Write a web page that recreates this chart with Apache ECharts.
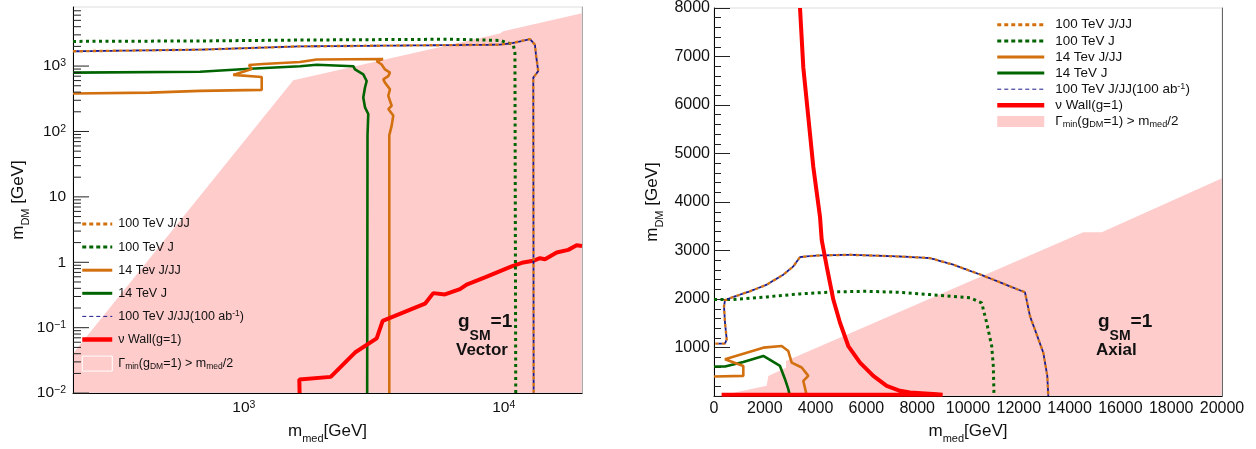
<!DOCTYPE html>
<html><head><meta charset="utf-8">
<script src="https://cdn.jsdelivr.net/npm/echarts@6/dist/echarts.min.js"></script>
<style>html,body{margin:0;padding:0;background:#fff}#c{width:1256px;height:449px}</style>
</head><body><div id="c"></div>
<script>
// ---------------- DATA ----------------
const N100JJ = '100 TeV J/JJ';
const N100J = '100 TeV J';
const N14JJ = '14 Tev J/JJ';
const N14J = '14 TeV J';
const N100AB = '100 TeV J/JJ(100 ab-1)';
const NWALL = '\u03bd Wall(g=1)';
const NPINK = 'Gamma_min(gDM=1) > mmed/2';
const legendNames = [N100JJ, N100J, N14JJ, N14J, N100AB, NWALL, NPINK];

// Left panel (Vector), [m_med GeV, m_DM GeV], log-log
const vecPinkEdge = [[220,0.0403],[1549,605],[9670,3150],[9950,3400],[20000,6412]];
const vec100J = [[220,2383],[678,2420],[1644,2500],[6210,2571],[9670,2466],[10260,2301],[10880,2123],[11040,1589],[11120,0.01]];
const vec100JJ = [[220,1681],[678,1782],[1644,2000],[9670,2123],[10850,2254],[12610,2589],[13180,2123],[13300,1500],[13570,837],[12990,665],[13030,0.01]];
const vec14JJ = [[220,381],[435,392],[678,417],[1171,432],[1171,679],[910,733],[1072,903],[1046,1040],[1184,1077],[1644,1153],[1906,1259],[3430,1281],[3243,1186],[3389,1057],[3490,889],[3649,793],[3594,703],[3439,627],[3490,558],[3649,443],[3594,351],[3704,247],[3594,220],[3757,175],[3704,123],[3626,87],[3626,0.01]];
const vec14J = [[220,793],[678,820],[1055,910],[1644,996],[1906,1047],[2636,996],[2676,889],[2880,746],[2968,591],[2924,470],[2880,331],[2924,234],[3010,185],[2990,87],[2981,0.01]];
const vecWall = [[1638,0.01],[1634,0.0161],[2158,0.0177],[2676,0.0417],[3243,0.0687],[3420,0.1272],[4976,0.2325],[5355,0.3377],[5938,0.3227],[6784,0.388],[7197,0.457],[8465,0.59],[10720,0.865],[11890,0.9945],[12990,1.055],[13780,1.155],[14410,1.116],[15980,1.409],[17710,1.548],[19070,1.817],[20000,1.78]];

// Right panel (Axial), linear
const axPinkEdge = [[157,0],[2075,211],[2138,211],[2138,416],[2835,585],[2835,724],[14539,3378],[15264,3378],[20000,4492]];
const ax100J = [[0,1990],[760,1990],[2075,2045],[3386,2107],[4697,2148],[6012,2160],[7323,2139],[8504,2092],[10079,2025],[10539,1922],[10736,1512],[10933,1032],[10996,622],[11024,0]];
const ax100JJ = [[50,1081],[433,1081],[500,1169],[433,1512],[394,1852],[433,1975],[760,2045],[1417,2160],[2075,2297],[2728,2503],[3122,2673],[3386,2866],[4043,2898],[5354,2913],[7323,2878],[8504,2845],[9421,2708],[10602,2482],[12244,2139],[12441,1647],[12965,896],[13122,416],[13161,0]];
const ax14JJ = [[0,404],[1154,416],[1154,622],[433,759],[1941,999],[2665,1032],[2925,929],[3059,691],[3453,589],[3713,416],[3516,314],[3622,76],[3622,0]];
const ax14J = [[0,609],[433,609],[1154,704],[1941,827],[2272,724],[2598,622],[2795,349],[2925,144],[2992,0]];
const axWall = [[3386,8000],[3516,6775],[3713,5750],[3910,4724],[4173,3699],[4240,3220],[4437,2673],[4697,1990],[4961,1512],[5287,1032],[5748,691],[6272,416],[6799,211],[7323,109],[7717,76],[8780,40],[9000,30],[300,30]];

// Axis ranges / ticks
const vecX = {min: 220, max: 20000};
const vecY = {min: 0.01, max: 8000};
const axX = {min: 0, max: 20000, interval: 2000};
const axY = {min: 0, max: 8000, interval: 1000};
const logTicksY = [];
for (let d = -2; d <= 3; d++) for (let k = 1; k <= 9; k++) { const v = k * Math.pow(10, d); if (v < vecY.max) logTicksY.push(+v.toPrecision(3)); }

// ---------------- STYLE ----------------
const FONT = 'Liberation Sans, Arial, Helvetica, sans-serif';
const C_OR = '#d2700f', C_GR = '#006400', C_BL = '#1a1a8c', C_RED = '#ff0000', C_PINK = '#ffcccc';

function isPow10(v) { const l = Math.log10(v); return Math.abs(l - Math.round(l)) < 1e-6; }
function powLabel(v) {
  if (!isPow10(v)) return '';
  const e = Math.round(Math.log10(v));
  if (e === 0) return '1';
  if (e === 1) return '10';
  return '10{sup|' + (e < 0 ? '\u2212' + (-e) : e) + '}';
}
function legendFmt(name) {
  if (name === N100AB) return '100 TeV J/JJ(100 ab{sup|-1})';
  if (name === NPINK) return '\u0393{sub|min}(g{sub|DM}=1) > m{sub|med}/2';
  return name;
}
function legendRich(fs) {
  return {
    sup: {fontSize: fs * 0.68, lineHeight: 9, verticalAlign: 'top', fontFamily: FONT, color: '#111'},
    sub: {fontSize: fs * 0.68, lineHeight: 8, padding: [6, 0, 0, 0], verticalAlign: 'top', fontFamily: FONT, color: '#111'}
  };
}
const labRich = {sup: {fontSize: 10.5, lineHeight: 10, verticalAlign: 'top', fontFamily: FONT, color: '#111'}};
const nameRich = {
  a: {fontSize: 17, lineHeight: 20, fontFamily: FONT, color: '#111'},
  s: {fontSize: 11, lineHeight: 11, padding: [12, 0, 0, 0], verticalAlign: 'top', fontFamily: FONT, color: '#111'}
};

function lineSeries(name, data, xi, yi, style, z) {
  return {type: 'line', name: name, data: data, xAxisIndex: xi, yAxisIndex: yi, symbol: 'none',
    showSymbol: false, smooth: false, lineStyle: style, itemStyle: {color: style.color}, color: style.color,
    z: z || 2, silent: true, animation: false, clip: true};
}
function pinkSeries(data, xi, yi) {
  return {type: 'line', name: NPINK, data: data, xAxisIndex: xi, yAxisIndex: yi, symbol: 'none',
    lineStyle: {width: 0, color: C_PINK}, itemStyle: {color: C_PINK}, color: C_PINK,
    areaStyle: {color: C_PINK, opacity: 1, origin: 'start'}, z: -1, silent: true, animation: false};
}
const sty = {
  j100jj: {color: C_OR, width: 2.4, type: [3.3, 3.3]},
  j100: {color: C_GR, width: 3, type: [3, 3.5]},
  j14jj: {color: C_OR, width: 2.6, type: 'solid'},
  j14: {color: C_GR, width: 2.6, type: 'solid'},
  ab: {color: C_BL, width: 1.8, type: [3.3, 3.3], dashOffset: 3.3},
  wall: {color: C_RED, width: 4, type: 'solid'}
};
const legendLineW = {};
legendLineW[N100JJ] = 3; legendLineW[N100J] = 3; legendLineW[N14JJ] = 3; legendLineW[N14J] = 3;
legendLineW[N100AB] = 1; legendLineW[NWALL] = 4.5;
const legendDash = {};
legendDash[N100JJ] = [4, 3]; legendDash[N100J] = [4, 3]; legendDash[N100AB] = [4, 3];

const axisLineBlack = {show: true, onZero: false, lineStyle: {color: '#000', width: 1}};
const plainNum = v => String(v);

function legendData(pinkStyle) {
  return legendNames.map(n => n === NPINK
    ? {name: n, icon: 'rect', itemStyle: Object.assign({color: C_PINK, opacity: 1}, pinkStyle)}
    : {name: n, lineStyle: Object.assign({width: legendLineW[n]}, legendDash[n] ? {type: legendDash[n], dashOffset: 0} : {})});
}

const option = {
  animation: false,
  backgroundColor: '#fff',
  textStyle: {fontFamily: FONT},
  grid: [
    {left: 73, top: 7, width: 509, height: 390, show: true, borderColor: '#dddddd', borderWidth: 1, backgroundColor: 'transparent'},
    {left: 714, top: 7, width: 508, height: 390, show: true, borderColor: '#dddddd', borderWidth: 1, backgroundColor: 'transparent'}
  ],
  xAxis: [
    {gridIndex: 0, type: 'log', logBase: 10, min: vecX.min, max: vecX.max,
      axisLine: axisLineBlack, axisTick: {show: false}, splitLine: {show: false},
      axisLabel: {formatter: powLabel, fontSize: 15.5, color: '#111', margin: 7, fontFamily: FONT, rich: labRich, showMinLabel: false, showMaxLabel: false},
      name: '{a|m}{s|med}{a|[GeV]}', nameLocation: 'middle', nameGap: 17,
      nameTextStyle: {fontSize: 17, fontFamily: FONT, color: '#111', rich: nameRich}},
    {gridIndex: 1, type: 'value', min: axX.min, max: axX.max, interval: axX.interval,
      axisLine: axisLineBlack, axisTick: {show: false}, splitLine: {show: false},
      axisLabel: {formatter: plainNum, fontSize: 16, color: '#111', margin: 4, fontFamily: FONT},
      name: '{a|m}{s|med}{a|[GeV]}', nameLocation: 'middle', nameGap: 17,
      nameTextStyle: {fontSize: 17, fontFamily: FONT, color: '#111', rich: nameRich}}
  ],
  yAxis: [
    {gridIndex: 0, type: 'log', logBase: 10, min: vecY.min, max: vecY.max, splitNumber: 6,
      axisLine: axisLineBlack, axisTick: {show: false},
      splitLine: {show: false},
      axisLabel: {formatter: powLabel, fontSize: 15.5, color: '#111', margin: 7, fontFamily: FONT, rich: labRich, showMaxLabel: false},
      name: '{a|m}{s|DM}{a| [GeV]}', nameLocation: 'middle', nameGap: 45,
      nameTextStyle: {fontSize: 17, fontFamily: FONT, color: '#111', rich: nameRich}},
    {gridIndex: 0, type: 'value', position: 'right', min: 0, max: 1,
      axisLine: {show: true, onZero: false, lineStyle: {color: '#aaaaaa'}}, axisTick: {show: false},
      axisLabel: {show: false}, splitLine: {show: false}},
    {gridIndex: 1, type: 'value', min: axY.min, max: axY.max, interval: axY.interval,
      axisLine: axisLineBlack, axisTick: {show: true, inside: true, length: 16, lineStyle: {color: '#222'}},
      minorTick: {show: true, splitNumber: 5, length: 7, lineStyle: {color: '#222'}},
      splitLine: {show: false}, minorSplitLine: {show: false},
      axisLabel: {formatter: plainNum, fontSize: 16, color: '#111', margin: 4, fontFamily: FONT, showMinLabel: false},
      name: '{a|m}{s|DM}{a| [GeV]}', nameLocation: 'middle', nameGap: 52,
      nameTextStyle: {fontSize: 17, fontFamily: FONT, color: '#111', rich: nameRich}},
    {gridIndex: 1, type: 'value', position: 'right', min: 0, max: 1,
      axisLine: {show: true, onZero: false, lineStyle: {color: '#666666'}}, axisTick: {show: false},
      axisLabel: {show: false}, splitLine: {show: false}}
  ],
  legend: [
    {left: 80, top: 217, orient: 'vertical', padding: 0, itemWidth: 30, itemHeight: 15, itemGap: 9.1,
      selectedMode: false, formatter: legendFmt, itemStyle: {opacity: 0},
      textStyle: {fontSize: 12.5, lineHeight: 14, color: '#111', fontFamily: FONT, padding: [0, 0, 0, 1], rich: legendRich(12.5)},
      data: legendData({borderColor: '#ffffff', borderWidth: 1})},
    {left: 995, top: 17.8, orient: 'vertical', padding: 0, itemWidth: 47, itemHeight: 11, itemGap: 2.1,
      selectedMode: false, formatter: legendFmt, itemStyle: {opacity: 0},
      textStyle: {fontSize: 13.4, lineHeight: 14, color: '#111', fontFamily: FONT, padding: [0, 0, 0, 6], rich: legendRich(13.4)},
      data: legendData({borderWidth: 0})}
  ],
  graphic: [
    {type: 'text', left: 458, top: 312, z: 100, style: {
      text: '{g|g}{s|SM}{g|=1}', fill: '#111',
      rich: {g: {fontSize: 19, fontWeight: 'bold', lineHeight: 22, verticalAlign: 'top', fontFamily: FONT, fill: '#111'},
             s: {fontSize: 14, fontWeight: 'bold', lineHeight: 14, padding: [17, 0, 0, 0], verticalAlign: 'top', fontFamily: FONT, fill: '#111'}}}},
    {type: 'text', left: 456, top: 342, z: 100, style: {text: 'Vector', font: 'bold 17px ' + FONT, fill: '#111'}},
    {type: 'text', left: 1098, top: 312, z: 100, style: {
      text: '{g|g}{s|SM}{g|=1}', fill: '#111',
      rich: {g: {fontSize: 19, fontWeight: 'bold', lineHeight: 22, verticalAlign: 'top', fontFamily: FONT, fill: '#111'},
             s: {fontSize: 14, fontWeight: 'bold', lineHeight: 14, padding: [17, 0, 0, 0], verticalAlign: 'top', fontFamily: FONT, fill: '#111'}}}},
    {type: 'text', left: 1096, top: 342, z: 100, style: {text: 'Axial', font: 'bold 17px ' + FONT, fill: '#111'}}
  ],
  series: [
    pinkSeries(vecPinkEdge, 0, 0),
    lineSeries(N14J, vec14J, 0, 0, sty.j14),
    lineSeries(N14JJ, vec14JJ, 0, 0, sty.j14jj),
    lineSeries(NWALL, vecWall, 0, 0, sty.wall),
    lineSeries(N100J, vec100J, 0, 0, sty.j100),
    lineSeries(N100JJ, vec100JJ, 0, 0, sty.j100jj),
    lineSeries(N100AB, vec100JJ, 0, 0, sty.ab, 3),
    {type: 'custom', name: 'logTicks', xAxisIndex: 0, yAxisIndex: 0, data: logTicksY.map(v => [vecX.min, v]),
      silent: true, z: 5, clip: false,
      renderItem: function (params, api) {
        const v = api.value(1);
        const p = api.coord([api.value(0), v]);
        const len = isPow10(v) ? 16 : 8;
        return {type: 'line', shape: {x1: p[0], y1: p[1], x2: p[0] + len, y2: p[1]}, style: {stroke: '#222', lineWidth: 1}};
      }},
    pinkSeries(axPinkEdge, 1, 2),
    lineSeries(N14J, ax14J, 1, 2, sty.j14),
    lineSeries(N14JJ, ax14JJ, 1, 2, sty.j14jj),
    lineSeries(N100J, ax100J, 1, 2, sty.j100),
    lineSeries(N100JJ, ax100JJ, 1, 2, sty.j100jj),
    lineSeries(N100AB, ax100JJ, 1, 2, sty.ab, 3),
    lineSeries(NWALL, axWall, 1, 2, sty.wall, 4)
  ]
};
const chart = echarts.init(document.getElementById('c'), null, {renderer: 'canvas'});
chart.setOption(option);
</script></body></html>
